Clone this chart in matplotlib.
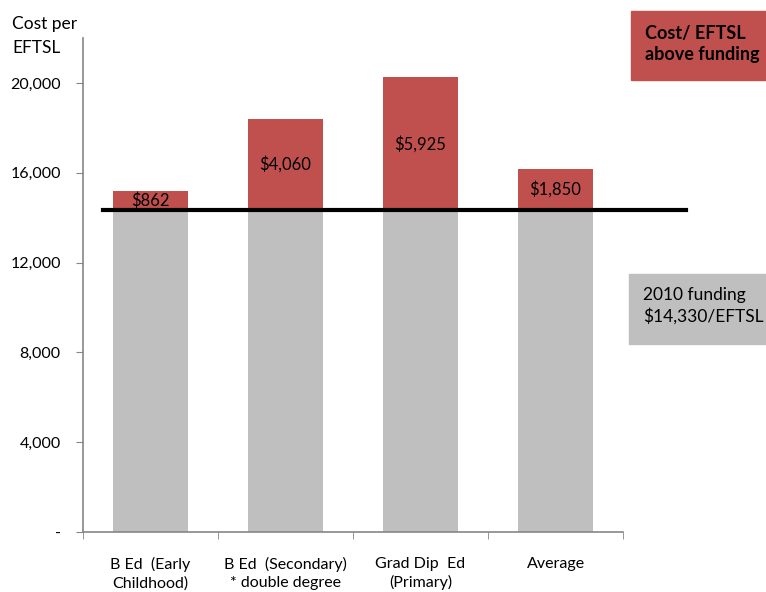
import numpy as np
import matplotlib.pyplot as plt
from matplotlib.patches import Rectangle

plt.rcParams['font.family'] = ['Lato', 'DejaVu Sans']

# Datos: costo por EFTSL por programa
categorias = ['B Ed  (Early\nChildhood)', 'B Ed  (Secondary)\n* double degree',
              'Grad Dip  Ed\n(Primary)', 'Average']
financiamiento = 14330
exceso = [862, 4060, 5925, 1850]
etiquetas = ['$862', '$4,060', '$5,925', '$1,850']

rojo = '#C0504D'
gris = '#BFBFBF'
eje = '#868686'

fig = plt.figure(figsize=(7.66, 5.92), dpi=100)
ax = fig.add_axes([0.1084, 0.1014, 0.705, 0.8344])

x = np.arange(len(categorias))
base = [financiamiento] * len(categorias)
ax.bar(x, base, width=0.55, color=gris, zorder=2)
ax.bar(x, exceso, width=0.55, bottom=base, color=rojo, zorder=2)

for xi, v, t in zip(x, exceso, etiquetas):
    ax.text(xi, financiamiento + v / 2, t, ha='center', va='center',
            fontsize=12, color='black', zorder=4)

# Linea del financiamiento 2010
ax.plot([-0.352, 3.967], [financiamiento, financiamiento], color='black',
        lw=3, clip_on=False, zorder=3)

ax.set_xlim(-0.5, len(categorias) - 0.5)
ax.set_ylim(0, 22000)
ax.set_yticks(np.arange(0, 22000, 4000))
ax.set_yticklabels(['-', '4,000', '8,000', '12,000', '16,000', '20,000'])
ax.set_xticks(x)
ax.set_xticklabels(categorias, fontsize=11.5, linespacing=1.35)
ax.set_xticks(np.arange(-0.5, len(categorias)), minor=True)
ax.tick_params(axis='x', which='major', length=0, pad=18)
ax.tick_params(axis='x', which='minor', length=5, color=eje, direction='out')
ax.tick_params(axis='y', length=5, color=eje, labelsize=11.5, pad=11)

for s in ['top', 'right']:
    ax.spines[s].set_visible(False)
for s in ['left', 'bottom']:
    ax.spines[s].set_color(eje)
    ax.spines[s].set_linewidth(1.2)

fig.text(12 / 766, 1 - 36 / 592, 'Cost per\nEFTSL', ha='left', va='center',
         fontsize=12.5, linespacing=1.6)

# Cuadros de leyenda a la derecha
fig.patches.append(Rectangle((631 / 766, 1 - 80 / 592), 135 / 766, 69 / 592,
                             transform=fig.transFigure, color=rojo, zorder=0))
fig.text(645 / 766, 1 - 44 / 592, 'Cost/ EFTSL\nabove funding', ha='left',
         va='center', fontsize=13, fontweight='bold', linespacing=1.35)
fig.patches.append(Rectangle((629 / 766, 1 - 344 / 592), 137 / 766, 70 / 592,
                             transform=fig.transFigure, color=gris, zorder=0))
fig.text(643 / 766, 1 - 306 / 592, '2010 funding\n$14,330/EFTSL', ha='left',
         va='center', fontsize=12.5, linespacing=1.35)

fig.savefig('out.png', dpi=100)
